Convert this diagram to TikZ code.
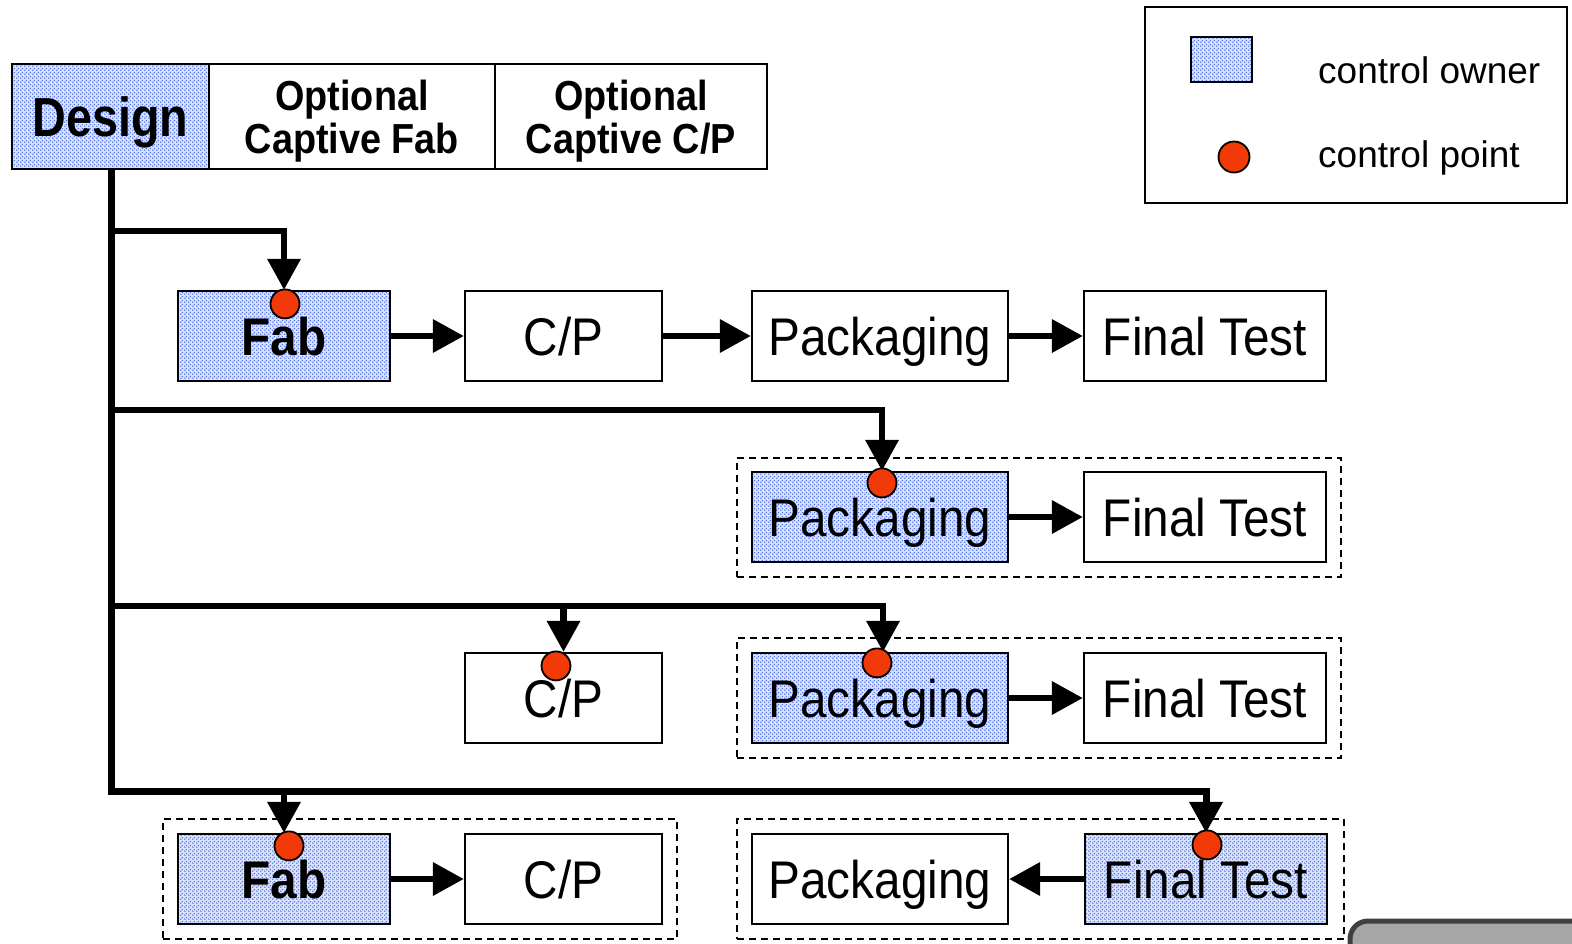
\documentclass[tikz,border=0pt]{standalone}
\usepackage{graphicx}
\usepackage{fontspec}
\setmainfont{Liberation Sans}
\usetikzlibrary{arrows.meta,patterns.meta,calc}
\definecolor{ownbg}{RGB}{220,228,252}
\definecolor{owndot}{RGB}{80,115,235}
\definecolor{cpred}{RGB}{242,58,8}
\tikzdeclarepattern{name=owndots,type=uncolored,
  bounding box={(0pt,0pt) and (4pt,4pt)},tile size={(4pt,4pt)},
  code={\pgfpathcircle{\pgfpoint{1pt}{1pt}}{1pt}\pgfpathcircle{\pgfpoint{3pt}{3pt}}{1pt}\pgfusepath{fill}}}
\newcommand{\hsq}[1]{\scalebox{0.9}[1]{#1}}
\tikzset{
  box/.style={draw, line width=2.2pt, inner sep=0pt, minimum height=90pt,
    text height=38pt, text depth=0pt, font=\fontsize{53}{60}\selectfont},
  boldbox/.style={box, font=\fontsize{53}{60}\selectfont\bfseries},
  own/.style={preaction={fill=ownbg}, preaction={pattern=owndots, pattern color=owndot}},
  topbox/.style={draw, line width=2.2pt, inner sep=0pt, minimum height=105pt, align=center,
    font=\fontsize{42}{43}\selectfont\bfseries},
  cpt/.style={circle, draw, line width=1.8pt, fill=cpred, minimum size=29pt, inner sep=0pt},
  grp/.style={draw, dash pattern=on 7pt off 5pt, line width=2pt, inner sep=0pt},
  conn/.style={line width=6.5pt, line join=miter, -{Triangle[length=31pt,width=32pt]}},
  legtext/.style={anchor=base west, inner sep=0pt, font=\fontsize{37}{40}\selectfont}
}
\begin{document}
\begin{tikzpicture}[x=1pt,y=-1pt]
\useasboundingbox (0,0) rectangle (1572,943);
% dashed groups
\node[grp, minimum width=604pt, minimum height=119pt] (g2) at (1039,517.5) {};
\node[grp, minimum width=604pt, minimum height=120pt] (g3) at (1039,698) {};
\node[grp, minimum width=514pt, minimum height=120pt] (g4a) at (420,879) {};
\node[grp, minimum width=607pt, minimum height=120pt] (g4b) at (1040.5,879) {};
% top row
\node[topbox, own, minimum width=197pt, font=\fontsize{55}{60}\selectfont\bfseries, text height=39pt, text depth=0pt] (design) at (110.5,116.5) {\scalebox{0.85}[1]{Design}};
\node[topbox, minimum width=286pt, text depth=0pt] (cfab) at (352,116.5) {\hsq{Optional}\\\hsq{Captive Fab}};
\node[topbox, minimum width=272pt, text depth=0pt] (ccp) at (631,116.5) {\hsq{Optional}\\\hsq{Captive C/P}};
% legend
\node[draw, line width=2.2pt, minimum width=422pt, minimum height=196pt, inner sep=0pt] (legend) at (1356,105) {};
\node[draw, own, line width=2pt, minimum width=61pt, minimum height=45pt, inner sep=0pt] (legsw) at (1221.5,59.5) {};
\node[cpt, minimum size=31pt] (legcp) at (1234,157) {};
\node[legtext] (legt1) at (1318,83) {control owner};
\node[legtext] (legt2) at (1318,167) {control point};
% row 1
\node[boldbox, own, minimum width=212pt] (fab1) at (284,336) {\hsq{Fab}};
\node[box, minimum width=197pt] (cp1) at (563.5,336) {\hsq{C/P}};
\node[box, minimum width=256pt] (pk1) at (880,336) {\hsq{Packaging}};
\node[box, minimum width=242pt] (ft1) at (1205,336) {\hsq{Final Test}};
% row 2
\node[box, own, minimum width=256pt] (pk2) at (880,517) {\hsq{Packaging}};
\node[box, minimum width=242pt] (ft2) at (1205,517) {\hsq{Final Test}};
% row 3
\node[box, minimum width=197pt] (cp3) at (563.5,698) {\hsq{C/P}};
\node[box, own, minimum width=256pt] (pk3) at (880,698) {\hsq{Packaging}};
\node[box, minimum width=242pt] (ft3) at (1205,698) {\hsq{Final Test}};
% row 4
\node[boldbox, own, minimum width=212pt] (fab4) at (284,879) {\hsq{Fab}};
\node[box, minimum width=197pt] (cp4) at (563.5,879) {\hsq{C/P}};
\node[box, minimum width=256pt] (pk4) at (880,879) {\hsq{Packaging}};
\node[box, own, minimum width=242pt] (ft4) at (1206,879) {\hsq{Final Test}};
% branch points
\coordinate (b1) at (111.5,231);
\coordinate (b2) at (111.5,410);
\coordinate (b3) at (111.5,606);
\coordinate (b4) at (111.5,791);
% connectors
\draw[conn, line width=7pt] (design.south -| b1) -- (b4) -| (ft4.north);
\draw[conn] (b1) -| (fab1.north);
\draw[conn] (b2) -| ([xshift=2pt]pk2.north);
\draw[conn] (b3) -| ([xshift=3pt]pk3.north);
\draw[conn] (b3 -| cp3.north) -- (cp3.north);
\draw[conn] (b4 -| fab4.north) -- (fab4.north);
\draw[conn] (fab1) -- (cp1);
\draw[conn] (cp1) -- (pk1);
\draw[conn] (pk1) -- (ft1);
\draw[conn] (pk2) -- (ft2);
\draw[conn] (pk3) -- (ft3);
\draw[conn] (fab4) -- (cp4);
\draw[conn] (ft4) -- (pk4);
% control points
\node[cpt] (c1) at ($(fab1.north)+(1,14)$) {};
\node[cpt] (c2) at ($(pk2.north)+(2,12)$) {};
\node[cpt] (c3) at ($(cp3.north)+(-7.5,14)$) {};
\node[cpt] (c4) at ($(pk3.north)+(-3,11)$) {};
\node[cpt] (c5) at ($(fab4.north)+(5,13)$) {};
\node[cpt] (c6) at ($(ft4.north)+(1,12)$) {};
% corner artifact
\begin{scope}
\clip (0,0) rectangle (1572,943);
\draw[line width=5pt, draw=black!75, fill=black!35, rounded corners=18pt] (1350,921) rectangle (1640,1010);
\end{scope}
\end{tikzpicture}
\end{document}
